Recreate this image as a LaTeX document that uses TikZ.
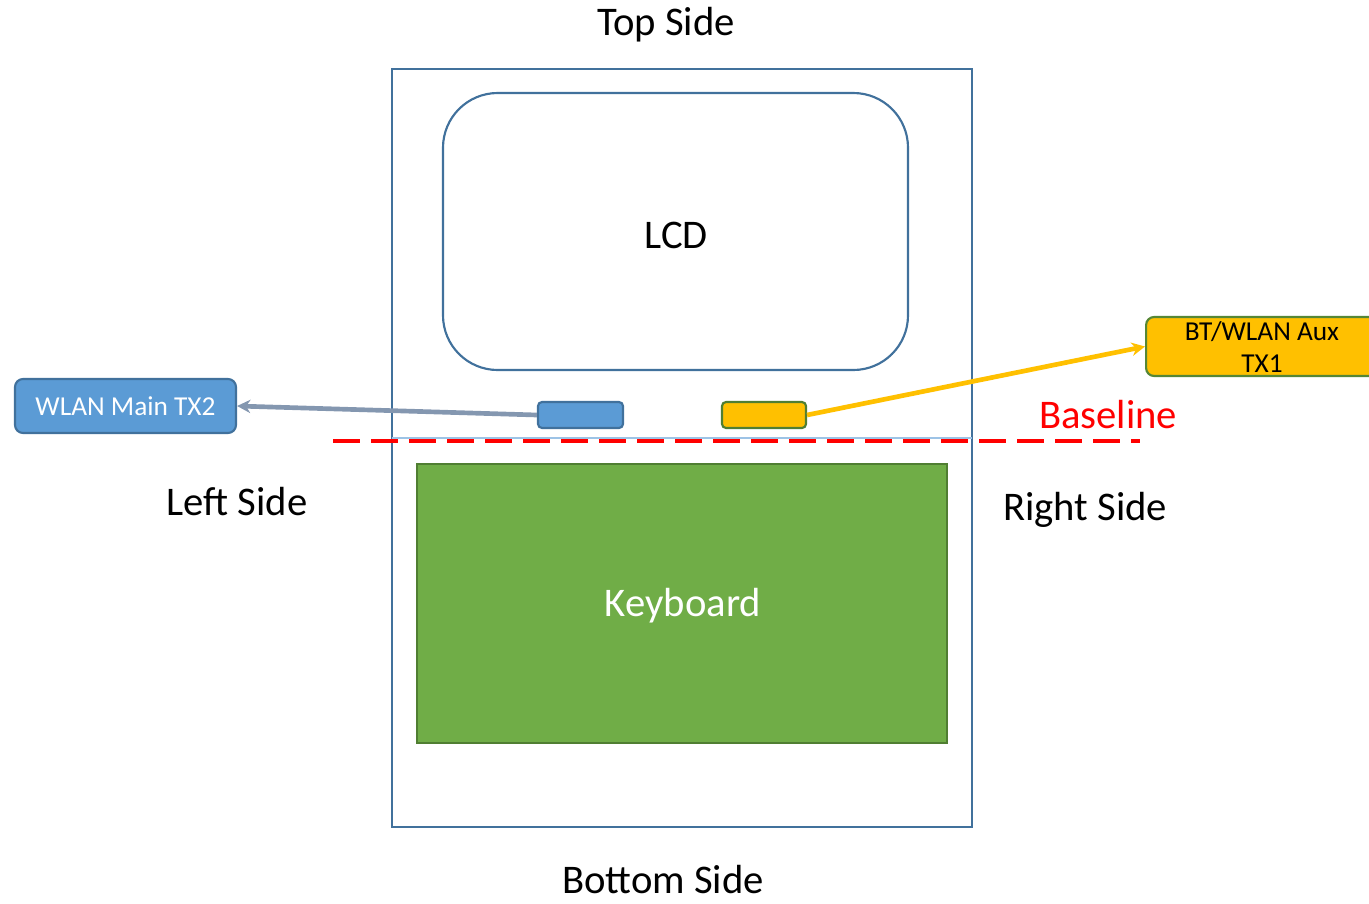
\documentclass[tikz,border=0pt]{standalone}
\usepackage{fontspec}
\setmainfont{Carlito}
\usetikzlibrary{arrows.meta}
\definecolor{bord}{HTML}{41719C}
\definecolor{lblue}{HTML}{5B9BD5}
\definecolor{gold}{HTML}{FFC000}
\definecolor{dgreen}{HTML}{507E32}
\definecolor{kgreen}{HTML}{70AD47}
\definecolor{grayarrow}{HTML}{8497B0}
\definecolor{thinblue}{HTML}{9DC3E6}
\tikzset{
  big/.style={font=\fontsize{30.5}{36}\selectfont},
  small/.style={font=\fontsize{20.5}{24}\selectfont},
  label/.style={big, inner sep=0pt, anchor=center},
  chip/.style={draw, line width=1.6pt, rounded corners=3pt},
}
\begin{document}
\begin{tikzpicture}[x=0.75pt,y=-0.75pt]
\useasboundingbox (0,0) rectangle (1369,903);
% device outline
\draw[bord, line width=1.6pt] (392,69) rectangle (972,827);
% LCD
\draw[bord, line width=1.6pt, fill=white, rounded corners=41pt] (443,93) rectangle (908,370);
\node[label] (lcd) at (676,235) {LCD};
% thin line
\draw[thinblue, line width=1.2pt] (392,438) -- (972,438);
% baseline
\draw[red, line width=2.3pt, dash pattern=on 20pt off 8.5pt] (333,441) -- (1140,441);
\node[label, red] (baseline) at (1108,415) {Baseline};
% keyboard
\draw[dgreen, line width=1.6pt, fill=kgreen] (417,464) rectangle (947,743);
\node[label, white] (kb) at (683,606) {Keyboard};
% small chips
\node[chip, draw=bord, fill=lblue, minimum width=63.75pt, minimum height=19.5pt, inner sep=0pt] (mainant) at (580.5,415) {};
\node[chip, draw=dgreen, fill=gold, minimum width=63pt, minimum height=19.5pt, inner sep=0pt] (auxant) at (764,415) {};
% external boxes
\node[draw=bord, line width=1.6pt, fill=lblue, rounded corners=6pt, minimum width=165.75pt, minimum height=40.5pt, inner sep=0pt, small, text=white] (wlan) at (125.5,406) {WLAN Main TX2};
\node[draw=dgreen!80!kgreen, line width=1.6pt, fill=gold, rounded corners=6pt, minimum width=180pt, minimum height=44.25pt, inner sep=0pt, anchor=west] (bt) at (1145,346.5) {};
\node[small, inner sep=0pt] (btl1) at (1262,332) {BT/WLAN Aux};
\node[small, inner sep=0pt] (btl2) at (1262,364) {TX1};
% arrows
\draw[grayarrow, line width=3.5pt, -{Stealth[length=10pt,width=10pt]}] (mainant.west) -- (wlan.east);
\draw[gold, line width=3.5pt, -{Stealth[length=10pt,width=10pt]}] (auxant.east) -- (bt.west);
% side labels
\node[label] (top) at (666,25) {Top Side};
\node[label] (bottom) at (663,880) {Bottom Side};
\node[label] (left) at (237,502) {Left Side};
\node[label] (right) at (1085,510) {Right Side};
\end{tikzpicture}
\end{document}
